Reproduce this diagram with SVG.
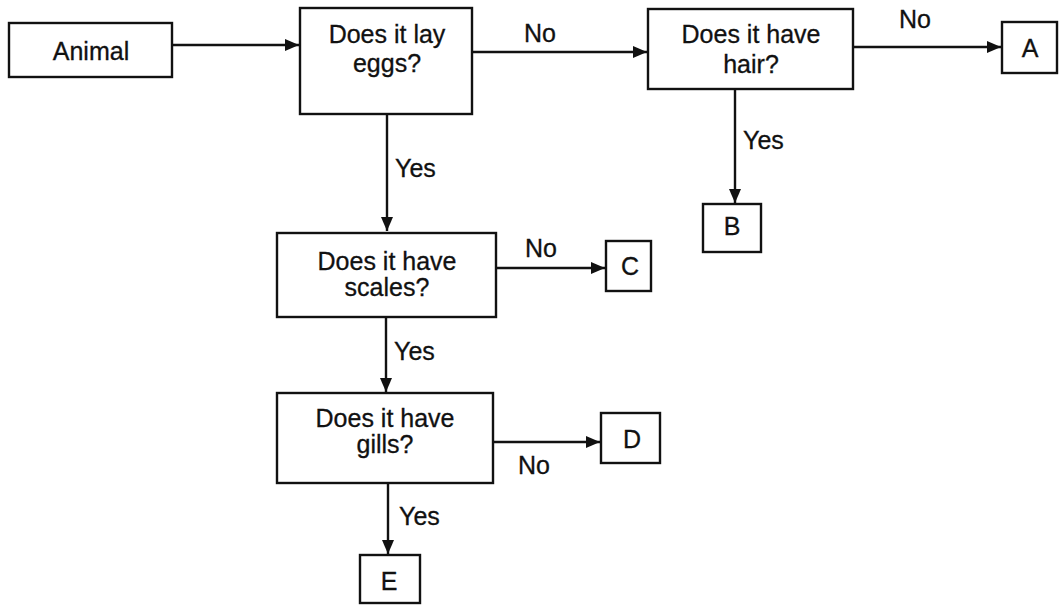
<svg xmlns="http://www.w3.org/2000/svg" width="1059" height="605" viewBox="0 0 1059 605">
  <style>
    .box { fill: #ffffff; stroke: #111111; stroke-width: 2.4; }
    .link { fill: none; stroke: #111111; stroke-width: 2.4; marker-end: url(#arrow); }
    text { font-family: "Liberation Sans", Arial, sans-serif; font-size: 25px; fill: #111111; stroke: #111111; stroke-width: 0.3; }
    .c { text-anchor: middle; }
  </style>
  <defs>
    <marker id="arrow" viewBox="0 0 14 12" refX="14" refY="6" markerWidth="14" markerHeight="12" markerUnits="userSpaceOnUse" orient="auto">
      <path d="M0,0 L14,6 L0,12 Z" fill="#111111"/>
    </marker>
  </defs>
  <rect width="1059" height="605" fill="#ffffff"/>

  <!-- connectors with their branch labels -->
  <g id="connectors">
    <line class="link" x1="172" y1="45" x2="299" y2="45"/>
    <line class="link" x1="472" y1="52" x2="647" y2="52"/>
    <text class="c" x="540" y="42">No</text>
    <line class="link" x1="853" y1="47" x2="1001" y2="47"/>
    <text class="c" x="915" y="28">No</text>
    <line class="link" x1="735" y1="89" x2="735" y2="203"/>
    <text x="743" y="149">Yes</text>
    <line class="link" x1="387" y1="114" x2="387" y2="231"/>
    <text x="395" y="177">Yes</text>
    <line class="link" x1="496" y1="268" x2="605" y2="268"/>
    <text class="c" x="541" y="257">No</text>
    <line class="link" x1="386" y1="317" x2="386" y2="392"/>
    <text x="394" y="360">Yes</text>
    <line class="link" x1="493" y1="442" x2="600" y2="442"/>
    <text class="c" x="534" y="474">No</text>
    <line class="link" x1="388" y1="483" x2="388" y2="554"/>
    <text x="399" y="525">Yes</text>
  </g>

  <g id="animal">
    <rect class="box" x="9" y="23" width="163" height="54"/>
    <text class="c" x="91" y="60">Animal</text>
  </g>
  <g id="lay-eggs">
    <rect class="box" x="300" y="8" width="172" height="106"/>
    <text class="c" x="387" y="43">Does it lay</text>
    <text class="c" x="387" y="72">eggs?</text>
  </g>
  <g id="have-hair">
    <rect class="box" x="648" y="9" width="205" height="80"/>
    <text class="c" x="751" y="43">Does it have</text>
    <text class="c" x="751" y="73">hair?</text>
  </g>
  <g id="node-a">
    <rect class="box" x="1002" y="22" width="55" height="51"/>
    <text class="c" x="1030" y="57">A</text>
  </g>
  <g id="node-b">
    <rect class="box" x="703" y="204" width="58" height="48"/>
    <text class="c" x="732" y="235">B</text>
  </g>
  <g id="have-scales">
    <rect class="box" x="277" y="233" width="219" height="84"/>
    <text class="c" x="387" y="270">Does it have</text>
    <text class="c" x="387" y="296">scales?</text>
  </g>
  <g id="node-c">
    <rect class="box" x="606" y="241" width="45" height="50"/>
    <text class="c" x="630" y="275">C</text>
  </g>
  <g id="have-gills">
    <rect class="box" x="277" y="393" width="216" height="90"/>
    <text class="c" x="385" y="427">Does it have</text>
    <text class="c" x="385" y="453">gills?</text>
  </g>
  <g id="node-d">
    <rect class="box" x="601" y="413" width="59" height="50"/>
    <text class="c" x="632" y="448">D</text>
  </g>
  <g id="node-e">
    <rect class="box" x="360" y="555" width="60" height="48"/>
    <text class="c" x="389" y="590">E</text>
  </g>
</svg>
